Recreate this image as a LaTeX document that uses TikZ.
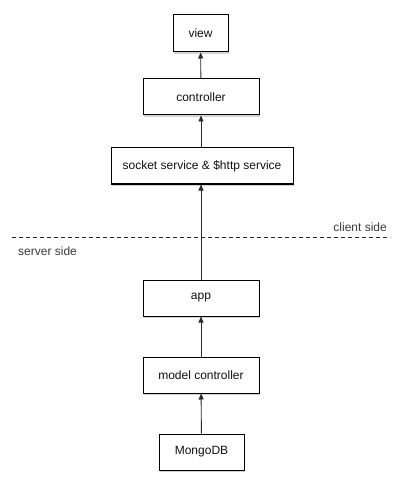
\documentclass[tikz,border=0pt]{standalone}
\usepackage{fontspec}
\setmainfont{Liberation Sans}
\usepackage{xcolor}
\usetikzlibrary{positioning,arrows.meta,shadows}
\definecolor{LInk}{HTML}{111111}
\definecolor{LLine}{HTML}{2A2A2A}
\definecolor{LSide}{HTML}{3A3A3A}

\begin{document}
\begin{tikzpicture}[
  x=1pt, y=-1pt,
  every node/.style={font=\fontsize{12}{14}\selectfont, text=LInk},
  layer/.style={draw=black, fill=white, line width=1pt, inner sep=0pt,
                minimum height=36pt, align=center,
                drop shadow={opacity=0.35, shadow xshift=0.6pt, shadow yshift=-2.4pt}},
  arrow/.style={-{Triangle[length=6pt,width=5pt]}, draw=LLine, line width=0.9pt},
  side/.style={text=LSide, inner sep=0pt},
]
\useasboundingbox (0,0) rectangle (401,494);
\node[layer, minimum width=55pt, minimum height=37pt] (view) at (200.5,33.5) {view};
\node[layer, minimum width=116pt] (ctrl)  at (201,97)    {controller};
\node[layer, minimum width=182pt] (svc)   at (202,166)   {socket service \& \$http service};
\node[layer, minimum width=116pt] (app)   at (201,298)   {app};
\node[layer, minimum width=116pt] (model) at (201,375)   {model controller};
\node[layer, minimum width=85pt]  (mongo) at (201.5,452) {MongoDB};
% client / server boundary
\coordinate (bl) at (12,237);
\coordinate (br) at (390,237);
\draw[dash pattern=on 4pt off 3pt, line width=0.8pt, draw=LLine] (bl) -- (br);
\node[side, anchor=base east] (client) at (387,231) {client side};
\node[side, anchor=base west] (server) at (18,255) {server side};
% data flow upwards
\draw[arrow] (mongo) -- (model);
\draw[arrow] (model) -- (app);
\draw[arrow] (app.north) -- (svc.south -| app.north);
\draw[arrow] (svc.north -| ctrl.south) -- (ctrl);
\draw[arrow] (ctrl) -- (view);
\end{tikzpicture}
\end{document}
